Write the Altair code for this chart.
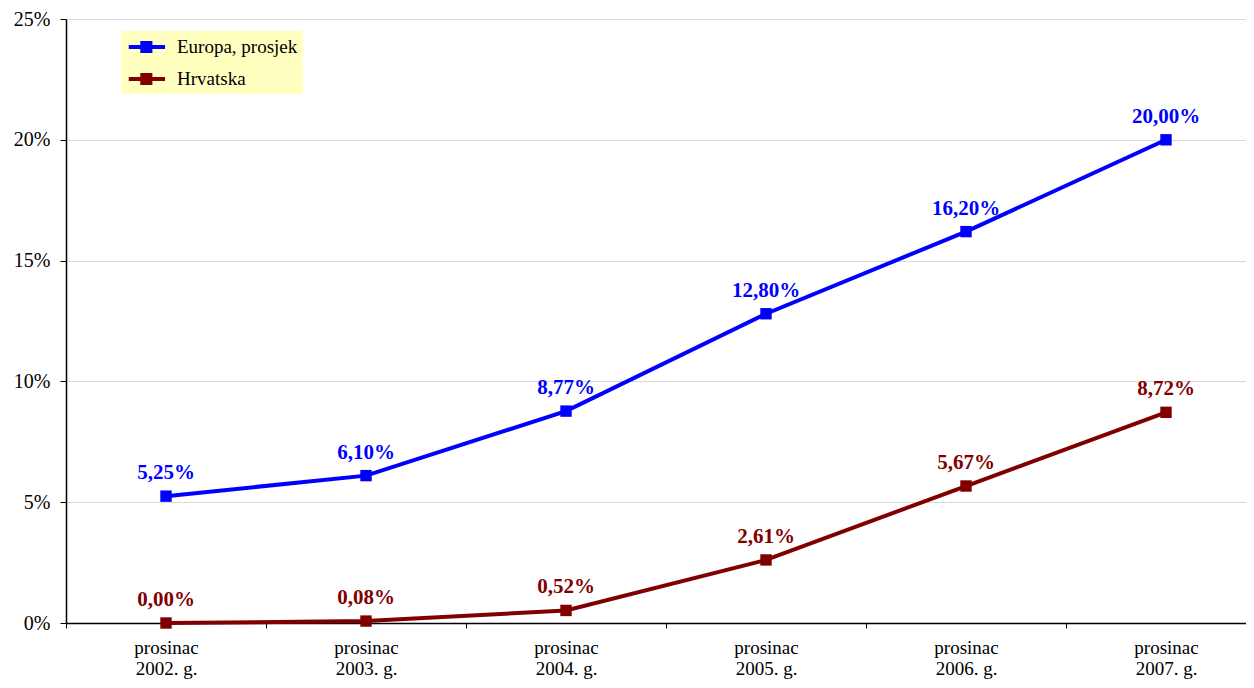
import altair as alt
import pandas as pd

categories = ["prosinac\n2002. g.", "prosinac\n2003. g.", "prosinac\n2004. g.",
              "prosinac\n2005. g.", "prosinac\n2006. g.", "prosinac\n2007. g."]
series_names = ["Europa, prosjek", "Hrvatska"]
europa = [5.25, 6.10, 8.77, 12.80, 16.20, 20.00]
hrvatska = [0.00, 0.08, 0.52, 2.61, 5.67, 8.72]
colors = ["#0000FF", "#800000"]

rows = []
for s, vals in zip(series_names, [europa, hrvatska]):
    for c, v in zip(categories, vals):
        rows.append({"cat": c, "series": s, "value": v})
df = pd.DataFrame(rows)

FONT = "Liberation Serif"

x = alt.X("cat:O", sort=categories, bandPosition=0.5,
          scale=alt.Scale(type="band", paddingInner=0, paddingOuter=0, range=[0, 1200]),
          axis=alt.Axis(title=None, labelAngle=0, tickBand="extent",
                        labelExpr="split(datum.label, '\\n')",
                        labelFont=FONT, labelFontSize=19, labelColor="black",
                        labelPadding=10, labelLineHeight=21, labelBaseline="top",
                        tickColor="black", tickSize=5, domainColor="black",
                        domainWidth=1.5, grid=False))
y = alt.Y("value:Q", scale=alt.Scale(domain=[0, 25], nice=False),
          axis=alt.Axis(title=None, values=[0, 5, 10, 15, 20, 25],
                        labelExpr="datum.value + '%'",
                        labelFont=FONT, labelFontSize=20, labelColor="black",
                        labelPadding=10, tickColor="black", tickSize=6,
                        domainColor="black", domainWidth=1.5,
                        gridColor="#D9D9D9", gridWidth=1))
legend = alt.Legend(title=None, orient="none", legendX=55, legendY=12,
                    fillColor="#FFFFC0", padding=5,
                    labelFont=FONT, labelFontSize=19, labelColor="black",
                    symbolType="M-0.75,-0.18L2.55,-0.18L2.55,0.18L-0.75,0.18Z M0.3,-0.55L1.4,-0.55L1.4,0.55L0.3,0.55Z",
                    symbolSize=484, symbolStrokeWidth=0,
                    rowPadding=11, labelOffset=29)
color = alt.Color("series:N", sort=series_names,
                  scale=alt.Scale(domain=series_names, range=colors),
                  legend=legend)

base = alt.Chart(df)

points = base.mark_point(shape="square", filled=True, size=130, opacity=1).encode(
    x=x, y=y, color=color)

lines = base.mark_line(strokeWidth=4).encode(x=x, y=y, color=color)

labels = base.transform_calculate(
    lbl="replace(format(datum.value, '.2f'), '.', ',') + '%'"
).mark_text(font=FONT, fontSize=21, fontWeight="bold", dy=-23).encode(
    x=x, y=y, text="lbl:N", color=color)

chart = alt.layer(points, lines, labels).properties(
    width=1180, height=604,
    autosize=alt.AutoSizeParams(type="none"),
    padding={"left": 58, "top": 11, "right": 0, "bottom": 57},
    background="white"
).configure_view(stroke=None)

chart.save("out.html", embed_options={"renderer": "svg", "actions": False})
